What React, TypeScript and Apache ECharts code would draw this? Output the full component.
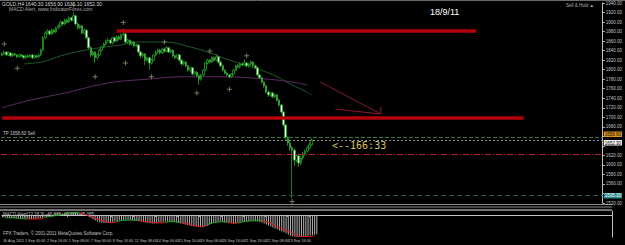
import React, { useEffect, useRef } from "react";
import * as echarts from "echarts";

// ---------- data ----------
const barCount = 278; // slots on the time axis (chart is shifted, right side empty)

const timeLabels = [
  "30 Aug 2011", "1 Sep 00:00", "2 Sep 16:00", "5 Sep 08:00", "7 Sep 00:00",
  "8 Sep 16:00", "12 Sep 08:00", "14 Sep 00:00", "15 Sep 16:00", "19 Sep 08:00",
  "20 Sep 16:00", "21 Sep 16:00", "22 Sep 08:00", "23 Sep 16:00", "26 Sep 08:00",
];

const opens = [
  1830, 1833, 1837, 1831, 1835, 1829, 1833, 1831, 1827, 1831,
  1829, 1825, 1829, 1827, 1831, 1825, 1829, 1827, 1831, 1841,
  1867, 1877, 1881, 1875, 1883, 1879, 1888, 1892, 1900, 1896,
  1904, 1900, 1909, 1904, 1913, 1896, 1888, 1892, 1877, 1883,
  1867, 1846, 1831, 1837, 1825, 1831, 1841, 1848, 1854, 1860,
  1862, 1856, 1867, 1860, 1869, 1864, 1873, 1875, 1858, 1862,
  1854, 1858, 1850, 1852, 1837, 1829, 1833, 1820, 1825, 1814,
  1820, 1831, 1837, 1841, 1835, 1843, 1839, 1846, 1837, 1841,
  1829, 1825, 1831, 1820, 1812, 1816, 1808, 1799, 1804, 1791,
  1795, 1787, 1780, 1789, 1799, 1814, 1820, 1816, 1825, 1820,
  1827, 1816, 1808, 1799, 1793, 1789, 1785, 1791, 1799, 1808,
  1806, 1812, 1810, 1814, 1808, 1812, 1816, 1808, 1804, 1789,
  1783, 1774, 1766, 1753, 1747, 1751, 1743, 1747, 1736, 1726,
  1711, 1684, 1657, 1646, 1636, 1631, 1610, 1619, 1604, 1615,
  1623, 1629, 1636, 1642,
];
const closes = [
  1833, 1837, 1831, 1835, 1829, 1833, 1831, 1827, 1831, 1829,
  1825, 1829, 1827, 1831, 1825, 1829, 1827, 1831, 1841, 1867,
  1877, 1881, 1875, 1883, 1879, 1888, 1892, 1900, 1896, 1904,
  1900, 1909, 1904, 1913, 1896, 1888, 1892, 1877, 1883, 1867,
  1846, 1831, 1837, 1825, 1831, 1841, 1848, 1854, 1860, 1862,
  1856, 1867, 1860, 1869, 1864, 1873, 1875, 1858, 1862, 1854,
  1858, 1850, 1852, 1837, 1829, 1833, 1820, 1825, 1814, 1820,
  1831, 1837, 1841, 1835, 1843, 1839, 1846, 1837, 1841, 1829,
  1825, 1831, 1820, 1812, 1816, 1808, 1799, 1804, 1791, 1795,
  1787, 1780, 1789, 1799, 1814, 1820, 1816, 1825, 1820, 1827,
  1816, 1808, 1799, 1793, 1789, 1785, 1791, 1799, 1808, 1806,
  1812, 1810, 1814, 1808, 1812, 1816, 1808, 1804, 1789, 1783,
  1774, 1766, 1753, 1747, 1751, 1743, 1747, 1736, 1726, 1711,
  1684, 1657, 1646, 1636, 1631, 1610, 1619, 1604, 1615, 1623,
  1629, 1636, 1642, 1652,
];
const highs = [
  1836, 1840, 1839, 1838, 1837, 1835, 1835, 1833, 1834, 1833,
  1831, 1831, 1832, 1833, 1833, 1831, 1831, 1834, 1844, 1870,
  1880, 1885, 1884, 1886, 1886, 1890, 1895, 1903, 1902, 1907,
  1907, 1912, 1911, 1921, 1916, 1899, 1895, 1894, 1886, 1885,
  1869, 1849, 1840, 1839, 1834, 1844, 1850, 1857, 1863, 1866,
  1865, 1869, 1870, 1872, 1872, 1876, 1886, 1878, 1865, 1864,
  1860, 1860, 1855, 1854, 1839, 1836, 1835, 1827, 1827, 1823,
  1833, 1840, 1844, 1844, 1846, 1846, 1849, 1848, 1844, 1843,
  1831, 1833, 1833, 1822, 1818, 1818, 1810, 1806, 1806, 1797,
  1797, 1790, 1791, 1801, 1816, 1823, 1822, 1828, 1828, 1832,
  1829, 1818, 1810, 1801, 1795, 1791, 1793, 1801, 1810, 1812,
  1815, 1815, 1822, 1816, 1814, 1819, 1818, 1811, 1806, 1791,
  1785, 1776, 1768, 1756, 1753, 1754, 1750, 1749, 1738, 1728,
  1713, 1686, 1660, 1652, 1640, 1636, 1622, 1624, 1618, 1627,
  1632, 1640, 1647, 1656,
];
const lows = [
  1828, 1831, 1829, 1829, 1826, 1827, 1829, 1824, 1825, 1827,
  1822, 1823, 1825, 1825, 1822, 1823, 1824, 1825, 1829, 1839,
  1864, 1874, 1872, 1873, 1876, 1877, 1885, 1890, 1893, 1894,
  1897, 1898, 1901, 1902, 1893, 1884, 1885, 1874, 1873, 1864,
  1843, 1826, 1828, 1814, 1822, 1829, 1838, 1845, 1851, 1857,
  1853, 1853, 1857, 1858, 1861, 1862, 1870, 1855, 1855, 1851,
  1851, 1847, 1847, 1834, 1824, 1826, 1810, 1817, 1800, 1811,
  1818, 1828, 1834, 1832, 1833, 1836, 1836, 1835, 1834, 1826,
  1822, 1822, 1817, 1809, 1809, 1805, 1796, 1796, 1788, 1788,
  1784, 1768, 1777, 1786, 1797, 1811, 1813, 1814, 1817, 1818,
  1813, 1805, 1796, 1790, 1786, 1782, 1783, 1788, 1797, 1803,
  1803, 1807, 1808, 1805, 1805, 1809, 1805, 1801, 1786, 1780,
  1771, 1762, 1750, 1743, 1744, 1740, 1740, 1733, 1722, 1707,
  1680, 1652, 1640, 1630, 1530, 1598, 1606, 1596, 1600, 1611,
  1619, 1626, 1633, 1640,
];

const priceMin = 1520;
const priceMax = 1940;
const priceStep = 20;

// hand-drawn objects: [bar index, price]
const resistanceLine = [[53, 1881], [219, 1881]];
const supportLine = [[0, 1698.5], [241, 1698.5]];
const arrowShaft = [[147, 1774], [175, 1707]];
const arrowHead = [[154, 1717], [175, 1707], [175, 1722]];

// horizontal price levels
const levelSell = 1658.6;
const levelBid = 1652.3;
const levelStop = 1622.3;
const levelLow = 1535.3;

// moving averages (sampled points)
const maGreen = [
  [10, 1812], [15, 1814], [20, 1818], [27, 1829], [36, 1839], [45, 1846], [55, 1852],
  [62, 1858], [70, 1858], [76, 1858], [85, 1850], [95, 1837], [105, 1820], [115, 1806],
  [122, 1795], [128, 1783], [134, 1768], [140, 1755], [143, 1747],
];
const maPurple = [
  [0, 1720], [13, 1736], [29, 1751], [49, 1772], [67, 1780], [84, 1785], [104, 1785],
  [117, 1782], [131, 1776], [141, 1768],
];

const fractals = [
  [1, 1854], [7, 1803], [33, 1936], [43, 1785], [56, 1899], [57, 1814], [69, 1785],
  [75, 1858], [90, 1751], [96, 1839], [105, 1759], [113, 1829], [134, 1523],
];

// MACD sub-window
const macdMin = -90.18;
const macdMax = 15.887;
const macdHist = [
  -10, -11, -12, -12, -13, -13, -14, -14, -15, -15,
  -16, -16, -17, -17, -17, -16, -15, -14, -11, -7,
  -4, -2, 0, 2, 4, 5, 6, 7, 8, 9,
  10, 11, 12, 12, 10, 7, 4, 1, -2, -6,
  -12, -18, -23, -27, -30, -32, -33, -33, -32, -31,
  -29, -27, -25, -23, -22, -21, -20, -20, -21, -22,
  -23, -24, -25, -27, -29, -31, -33, -34, -35, -35,
  -34, -32, -30, -28, -27, -27, -27, -28, -29, -31,
  -33, -35, -37, -39, -41, -43, -45, -47, -48, -49,
  -50, -50, -48, -44, -40, -36, -32, -30, -28, -27,
  -28, -30, -32, -34, -35, -35, -34, -32, -30, -28,
  -27, -26, -25, -24, -24, -25, -26, -28, -31, -35,
  -39, -43, -47, -51, -55, -59, -63, -67, -71, -75,
  -80, -84, -87, -89, -90, -89, -88, -87, -86, -85,
  -84, -83, -81, -79,
];
const macdSignal = [
  [1, -11.4], [6, -12.7], [11, -16.8], [17, -16.8], [20, -8.6], [26, -0.4], [32, 9.8],
  [35, 7.7], [42, -12.7], [48, -31], [50, -31.8], [54, -22.9], [59, -20.8], [63, -24.9],
  [72, -33.1], [76, -27.8], [81, -29], [86, -41.2], [91, -47.4], [95, -33.1], [101, -27.8],
  [106, -34.3], [110, -27], [117, -23.7], [122, -33.1], [125, -48.2], [131, -69.8],
  [135, -88], [139, -88], [142, -86],
];
const signalTrend = [
  { from: 0, to: 11, up: true }, { from: 11, to: 19, up: false }, { from: 19, to: 35, up: true },
  { from: 35, to: 52, up: false }, { from: 52, to: 62, up: true }, { from: 62, to: 74, up: false },
  { from: 74, to: 81, up: true }, { from: 81, to: 93, up: false }, { from: 93, to: 102, up: true },
  { from: 102, to: 107, up: false }, { from: 107, to: 118, up: true }, { from: 118, to: 300, up: false },
];

const FONT = "'Liberation Sans', Arial, sans-serif";

export default function App() {
  const ref = useRef<HTMLDivElement>(null);

  useEffect(() => {
    document.body.style.margin = "0";
    const chart = echarts.init(ref.current!, null, { renderer: "svg" });
    const cats = Array.from({ length: barCount }, (_, i) => String(i));
    const candles = opens.map((o, i) => [o, closes[i], lows[i], highs[i]]);
    const axisGray = "#c0c0c0";
    const labelled = [levelSell, levelBid, levelLow];

    const level = (v: number, color: string, type: any, text?: string, bg?: string, fg?: string, va?: string) => ({
      yAxis: v,
      lineStyle: { color, type, width: 1 },
      label: text
        ? {
            show: true,
            position: "end",
            formatter: text,
            backgroundColor: bg,
            color: fg || "#000",
            fontSize: 4.5,
            fontFamily: FONT,
            verticalAlign: va || "middle",
            padding: [0.5, 1, 0, 1],
            distance: 1,
          }
        : { show: false },
    });

    const option: any = {
      animation: false,
      backgroundColor: "#000000",
      textStyle: { fontFamily: FONT },
      grid: [
        { left: 1, top: 3, width: 611, height: 200 },
        { left: 1, top: 211, width: 611, height: 26 },
      ],
      xAxis: [
        { type: "category", gridIndex: 0, data: cats, boundaryGap: true, show: false },
        {
          type: "category",
          gridIndex: 1,
          data: cats,
          boundaryGap: true,
          axisLine: { lineStyle: { color: axisGray, width: 1 } },
          axisTick: {
            show: true,
            length: 2,
            interval: (i: number) => i % 10 === 0 && i / 10 < timeLabels.length,
            lineStyle: { color: axisGray },
          },
          axisLabel: {
            interval: (i: number) => i % 10 === 0 && i / 10 < timeLabels.length,
            formatter: (_v: string, i: number) => timeLabels[i / 10] || "",
            color: axisGray,
            fontSize: 3.8,
            align: "left",
            margin: 2,
          },
        },
      ],
      yAxis: [
        {
          type: "value",
          gridIndex: 0,
          position: "right",
          min: priceMin,
          max: priceMax,
          interval: priceStep,
          axisLine: { show: true, lineStyle: { color: axisGray } },
          axisTick: { show: true, length: 2, lineStyle: { color: axisGray } },
          axisLabel: {
            color: axisGray,
            fontSize: 4.5,
            margin: 3,
            formatter: (v: number) => (labelled.some((l) => Math.abs(l - v) < 13) ? "" : v.toFixed(2)),
          },
          splitLine: { show: false },
        },
        {
          type: "value",
          gridIndex: 1,
          position: "right",
          min: macdMin,
          max: macdMax,
          axisLine: { show: true, lineStyle: { color: axisGray } },
          axisTick: { show: false },
          axisLabel: { show: false },
          splitLine: { show: false },
        },
      ],
      visualMap: [
        {
          type: "piecewise",
          show: false,
          seriesIndex: 9,
          dimension: 0,
          pieces: signalTrend.map((s) => ({ gte: s.from, lt: s.to, color: s.up ? "#22a822" : "#e01414" })),
        },
      ],
      series: [
        {
          type: "candlestick",
          xAxisIndex: 0,
          yAxisIndex: 0,
          data: candles,
          barWidth: 2,
          itemStyle: {
            color: "#000000",
            color0: "#f4f4f4",
            borderColor: "#22a422",
            borderColor0: "#22a422",
            borderWidth: 0.8,
          },
          markLine: {
            silent: true,
            symbol: ["none", "none"],
            data: [
              level(levelSell, "#3c7a3c", [4, 2], "1658.60", "#e0961c", "#000", "bottom"),
              level(levelBid, "#8a8a8a", [2, 2], "1652.30", "#f0f0f0", "#000", "top"),
              level(levelStop, "#b4202c", [6, 2, 1, 2]),
              level(levelLow, "#1f5a4c", [5, 3], "1535.30", "#2a8c8c", "#ffffff"),
            ],
          },
          z: 3,
        },
        {
          type: "line", xAxisIndex: 0, yAxisIndex: 0, data: resistanceLine, symbol: "none",
          lineStyle: { color: "#b4000c", width: 3.5 }, z: 4,
        },
        {
          type: "line", xAxisIndex: 0, yAxisIndex: 0, data: supportLine, symbol: "none",
          lineStyle: { color: "#b4000c", width: 3.5 }, z: 4,
        },
        {
          type: "line", xAxisIndex: 0, yAxisIndex: 0, data: maGreen, symbol: "none", smooth: 0.4,
          lineStyle: { color: "#1e5a2a", width: 1 }, z: 2,
        },
        {
          type: "line", xAxisIndex: 0, yAxisIndex: 0, data: maPurple, symbol: "none", smooth: 0.4,
          lineStyle: { color: "#5e2a66", width: 1 }, z: 2,
        },
        {
          type: "line", xAxisIndex: 0, yAxisIndex: 0, data: arrowShaft, symbol: "none",
          lineStyle: { color: "#8a1830", width: 1 },
        },
        {
          type: "line", xAxisIndex: 0, yAxisIndex: 0, data: arrowHead, symbol: "none",
          lineStyle: { color: "#8a1830", width: 1 },
        },
        {
          type: "scatter", xAxisIndex: 0, yAxisIndex: 0, data: fractals,
          symbol: "path://M4,0 L6,0 L6,4 L10,4 L10,6 L6,6 L6,10 L4,10 L4,6 L0,6 L0,4 L4,4 Z",
          symbolSize: 5,
          itemStyle: { color: "#8c9a72" },
          z: 5,
        },
        {
          type: "bar", xAxisIndex: 1, yAxisIndex: 1, data: macdHist, barWidth: 0.8,
          itemStyle: { color: "#b4b4b4" },
          markLine: {
            silent: true,
            symbol: ["none", "none"],
            lineStyle: { opacity: 0 },
            label: { position: "end", color: axisGray, fontSize: 4, distance: 2 },
            data: [
              { yAxis: macdMax, label: { formatter: "15.887", verticalAlign: "top" } },
              { yAxis: 0, label: { formatter: "0.00" } },
              { yAxis: macdMin, label: { formatter: "-90.18", verticalAlign: "bottom" } },
            ],
          },
        },
        {
          type: "line", xAxisIndex: 1, yAxisIndex: 1, data: macdSignal, symbol: "none", smooth: 0.3,
          lineStyle: { width: 1 },
        },
      ],
      graphic: [
        { type: "line", shape: { x1: 0, y1: 0.5, x2: 625, y2: 0.5 }, style: { stroke: "#6a6a6a", lineWidth: 1 } },
        { type: "line", shape: { x1: 0, y1: 204.5, x2: 612, y2: 204.5 }, style: { stroke: "#8a8a8a", lineWidth: 1.2 } },
        { type: "line", shape: { x1: 0, y1: 207, x2: 612, y2: 207 }, style: { stroke: "#8a8a8a", lineWidth: 1.2 } },
        { type: "line", shape: { x1: 0, y1: 210, x2: 612, y2: 210 }, style: { stroke: "#e4e4e4", lineWidth: 1 } },
        { type: "text", left: 2, top: 1, style: { text: "GOLD,H4 1640.30 1656.90 1636.10 1652.30", fill: "#d8d8d8", font: `5px ${FONT}` } },
        { type: "text", left: 9, top: 6, style: { text: "MACD Alert, www.IndicatorForex.com", fill: "#a8a8a8", font: `5px ${FONT}` } },
        { type: "text", left: 566, top: 3, style: { text: "Sell & Hold ▲", fill: "#b0b0b0", font: `4.5px ${FONT}` } },
        { type: "text", left: 430, top: 7, style: { text: "18/9/11", fill: "#ffffff", font: `9px ${FONT}` } },
        { type: "text", left: 3, top: 131, style: { text: "TP 1658.60 Sell", fill: "#c8c8c8", font: `4.5px ${FONT}` } },
        { type: "text", left: 332, top: 140, style: { text: "<--166:33", fill: "#d8c060", font: `10px 'DejaVu Sans Mono', monospace` } },
        { type: "text", left: 3, top: 212, style: { text: "MACD Alert(12,26,9) -46.885 -43.305 -45.085", fill: "#c0c0c0", font: `4.5px ${FONT}` } },
        { type: "text", left: 3, top: 231, style: { text: "FPX Traders, © 2001-2011 MetaQuotes Software Corp.", fill: "#c0c0c0", font: `4.5px ${FONT}` } },
      ],
    };

    chart.setOption(option);
    return () => chart.dispose();
  }, []);

  return <div ref={ref} style={{ width: 625, height: 245, background: "#000" }} />;
}
